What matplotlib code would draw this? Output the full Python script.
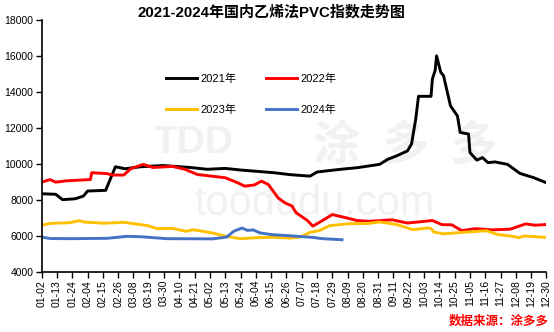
import matplotlib as mpl

mpl.use("Agg")

import matplotlib.pyplot as plt
import pandas as pd

plt.rcParams["font.family"] = ["Liberation Sans", "Noto Sans CJK SC", "DejaVu Sans"]
plt.rcParams["axes.unicode_minus"] = False

# --- data (MM-DD, index value) ---
dates_2021 = ["01-02", "01-12", "01-17", "01-26", "02-01", "02-04", "02-17", "02-24",
              "03-02", "03-13", "03-29", "04-18", "04-30", "05-13", "05-24", "06-17",
              "06-29", "07-13", "07-18", "08-04", "08-16", "09-01", "09-07", "09-13",
              "09-21", "09-24", "09-27", "09-29", "10-08", "10-09", "10-11", "10-12",
              "10-15", "10-17", "10-22", "10-27", "10-29", "11-04", "11-05", "11-10",
              "11-14", "11-18", "11-23", "12-02", "12-11", "12-21", "12-30"]
vals_2021 = [8330, 8300, 8000, 8050, 8200, 8480, 8520, 9830,
             9720, 9830, 9900, 9790, 9690, 9740, 9650, 9500,
             9390, 9310, 9540, 9690, 9780, 9965, 10250, 10430,
             10710, 11100, 12480, 13750, 13750, 14720, 15200, 16000,
             15090, 14900, 13220, 12660, 11740, 11650, 10620, 10200,
             10340, 10060, 10100, 9965, 9460, 9220, 8940]

dates_2022 = ["01-02", "01-08", "01-12", "01-20", "02-06", "02-07", "02-18", "02-22",
              "03-01", "03-06", "03-15", "03-22", "04-05", "04-14", "04-23", "05-13",
              "05-22", "05-27", "06-03", "06-08", "06-13", "06-20", "06-25", "06-30",
              "07-03", "07-11", "07-15", "07-20", "07-29", "08-07", "08-16", "08-25",
              "09-10", "09-21", "10-09", "10-16", "10-23", "10-30", "11-09", "11-21",
              "12-04", "12-15", "12-22", "12-30"]
vals_2022 = [8975, 9120, 8975, 9050, 9120, 9500, 9450, 9370,
             9370, 9720, 9965, 9790, 9850, 9690, 9400, 9220,
             8940, 8750, 8820, 9030, 8845, 8100, 7820, 7650,
             7270, 6850, 6530, 6750, 7170, 7010, 6835, 6800,
             6880, 6700, 6840, 6610, 6600, 6280, 6390, 6320,
             6360, 6650, 6580, 6620]

dates_2023 = ["01-02", "01-08", "01-22", "01-29", "02-02", "02-16", "03-01", "03-18",
              "03-25", "04-05", "04-15", "04-20", "05-04", "05-14", "05-24", "06-03",
              "06-16", "06-29", "07-06", "07-13", "07-20", "07-27", "08-09", "08-24",
              "09-01", "09-13", "09-25", "10-05", "10-08", "10-10", "10-17", "11-03",
              "11-17", "11-25", "12-06", "12-10", "12-14", "12-30"]
vals_2023 = [6580, 6680, 6720, 6830, 6750, 6690, 6740, 6560,
             6390, 6400, 6240, 6330, 6145, 5955, 5830, 5880,
             5910, 5860, 5920, 6180, 6290, 6550, 6660, 6680,
             6760, 6625, 6330, 6420, 6400, 6200, 6100, 6200,
             6270, 6060, 5960, 5880, 5980, 5900]

dates_2024 = ["01-02", "01-08", "01-22", "02-18", "03-03", "03-13", "04-01", "05-04",
              "05-14", "05-19", "05-25", "05-29", "06-02", "06-07", "06-16", "06-29",
              "07-15", "07-22", "08-05"]
vals_2024 = [5920, 5840, 5830, 5850, 5960, 5940, 5830, 5820,
             5920, 6235, 6425, 6290, 6320, 6150, 6050, 5990,
             5900, 5830, 5770]

series_labels = ["2021年", "2022年", "2023年", "2024年"]
series_colors = ["#000000", "#FF0000", "#FFC000", "#4472C4"]

tick_labels = ["01-02", "01-13", "01-24", "02-04", "02-15", "02-26", "03-08", "03-19",
               "03-30", "04-10", "04-21", "05-02", "05-13", "05-24", "06-04", "06-15",
               "06-26", "07-07", "07-18", "07-29", "08-09", "08-20", "08-31", "09-11",
               "09-22", "10-03", "10-14", "10-25", "11-05", "11-16", "11-27", "12-08",
               "12-19", "12-30"]

title = "2021-2024年国内乙烯法PVC指数走势图"
source = "数据来源：涂多多"

START = pd.Timestamp("2024-01-02")


def to_days(md):
    # calendar axis runs on a leap year (02-26 + 11 days = 03-08)
    return [(pd.Timestamp("2024-" + s) - START).days for s in md]


fig = plt.figure(figsize=(5.54, 3.32), dpi=100)
ax = fig.add_axes([0.0753, 0.182, 0.911, 0.758])

# faint watermark
wm = "#f1f1f1"
ax.text(0.54, 0.27, "toodudu.com", transform=ax.transAxes, fontsize=30,
        color=wm, ha="center", va="center", zorder=0)
ax.text(0.72, 0.5, "涂  多  多", transform=ax.transAxes, fontsize=34,
        color=wm, ha="center", va="center", zorder=0, weight="bold",
        family=["Noto Sans CJK SC"])
ax.text(0.3, 0.51, "TDD", transform=ax.transAxes, fontsize=28,
        color=wm, ha="center", va="center", zorder=0, weight="bold")

all_dates = [dates_2021, dates_2022, dates_2023, dates_2024]
all_vals = [vals_2021, vals_2022, vals_2023, vals_2024]
handles = []
for d, v, lab, col in zip(all_dates, all_vals, series_labels, series_colors):
    h, = ax.plot(to_days(d), v, color=col, lw=2.1, label=lab, solid_joinstyle="round")
    handles.append(h)

ax.set_xlim(0, to_days(["12-30"])[0])
ax.set_ylim(4000, 18000)
ax.set_yticks(range(4000, 18001, 2000))
ax.set_xticks(to_days(tick_labels))
ax.set_xticklabels(tick_labels, rotation=90)
ax.tick_params(axis="x", labelsize=7.5, length=4, width=1, pad=2)
ax.tick_params(axis="y", labelsize=7.5, length=4, width=1, pad=2)

for side in ("top", "right"):
    ax.spines[side].set_visible(False)
for side in ("left", "bottom"):
    ax.spines[side].set_linewidth(1.2)

# row-wise order: 2021 2022 / 2023 2024
order = [0, 2, 1, 3]
ax.legend([handles[i] for i in order], [series_labels[i] for i in order],
          loc="center", bbox_to_anchor=(0.415, 0.705), ncol=2, frameon=False,
          fontsize=8, handlelength=2.8, columnspacing=2.6, labelspacing=1.9,
          handletextpad=0.3)

fig.text(0.49, 0.962, title, ha="center", va="center", fontsize=10.8, weight="bold")
fig.text(0.99, 0.03, source, ha="right", va="center", fontsize=9, weight="bold",
         color="#FF0000", style="italic")

fig.savefig("out.png", dpi=100, facecolor="white")
